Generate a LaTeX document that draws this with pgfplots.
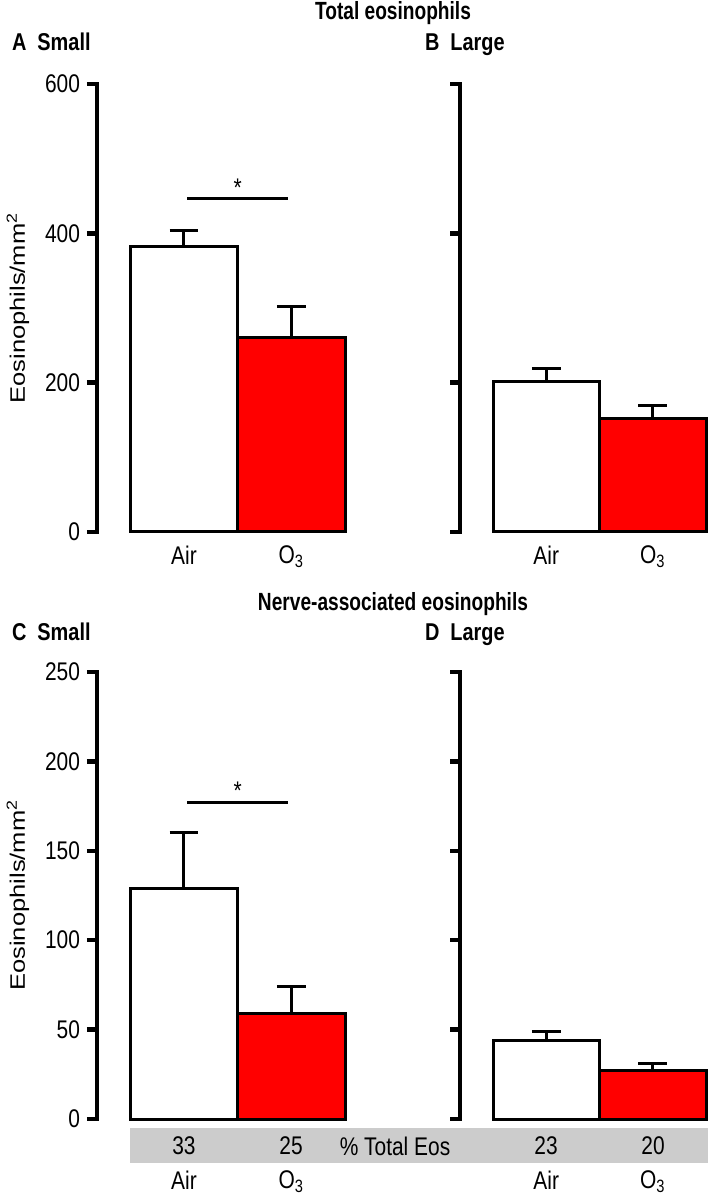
\documentclass[border=0pt]{standalone}
\usepackage{fontspec}
\setmainfont{Liberation Sans}
\usepackage{graphicx}
\usepackage{pgfplots}
\pgfplotsset{compat=1.18}
\definecolor{bandgray}{RGB}{204,204,204}
\definecolor{barred}{RGB}{255,0,0}
\newcommand{\ticksize}{\fontsize{10.5}{12}\selectfont}
\newcommand{\labsize}{\fontsize{10.5}{12}\selectfont}
\newcommand{\titlesize}{\fontsize{9.6}{12}\selectfont\bfseries}
\newcommand{\panelsize}{\fontsize{10}{12}\selectfont\bfseries}
\tikzset{stretch/.style={yscale=1.22}, tstretch/.style={yscale=1.3}}
\pgfplotsset{
  panel/.style={
    scale only axis, anchor=south west, clip=false,
    xmin=-0.81, xmax=1.5, ymin=0,
    axis lines*=left,
    x axis line style={draw=none},
    y axis line style={line width=2.2bp, black, line cap=rect},
    xtick={0,1}, xticklabels={Air, O\textsubscript{3}},
    xtick style={draw=none},
    tick align=outside, major tick length=5bp,
    ytick style={line width=2.2bp, black},
    tick label style={font=\ticksize, black, yscale=1.22},
    /pgf/number format/assume math mode=true,
  },
  airbar/.style={ybar, bar width=1, fill=white, draw=black, line width=1.5bp,
    error bars/.cd, y dir=plus, y explicit,
    error bar style={line width=1.5bp, black},
    error mark options={rotate=90, mark size=7.2bp, line width=1.5bp, black}},
  o3bar/.style={ybar, bar width=1, fill=barred, draw=black, line width=1.5bp,
    error bars/.cd, y dir=plus, y explicit,
    error bar style={line width=1.5bp, black},
    error mark options={rotate=90, mark size=7.2bp, line width=1.5bp, black}},
}
\begin{document}
\begin{tikzpicture}
\useasboundingbox (0,0) rectangle (354.5bp,599.5bp);

% titles
\node[font=\titlesize, tstretch] at (196.5bp,593bp) {Total eosinophils};
\node[font=\panelsize, stretch, anchor=base west] at (2.5bp,574bp) {A\hspace{5.5bp}Small};
\node[font=\panelsize, stretch, anchor=base west] at (209bp,574bp) {B\hspace{5.5bp}Large};
\node[font=\titlesize, tstretch] at (196.5bp,297.5bp) {Nerve-associated eosinophils};
\node[font=\panelsize, stretch, anchor=base west] at (2.5bp,279bp) {C\hspace{5.5bp}Small};
\node[font=\panelsize, stretch, anchor=base west] at (209bp,279bp) {D\hspace{5.5bp}Large};

% y labels
\node[font=\labsize, rotate=90] at (9bp,445.5bp) {\scalebox{1.22}[1]{Eosinophils/mm\textsuperscript{2}}};
\node[font=\labsize, rotate=90] at (9bp,152bp) {\scalebox{1.22}[1]{Eosinophils/mm\textsuperscript{2}}};

% gray band
\fill[bandgray] (65bp,18bp) rectangle (354bp,35.5bp);
\node[font=\ticksize, stretch] at (92bp,26.5bp) {33};
\node[font=\ticksize, stretch] at (145.5bp,26.5bp) {25};
\node[font=\ticksize, stretch] at (197.5bp,26.5bp) {\% Total Eos};
\node[font=\ticksize, stretch] at (273bp,26.5bp) {23};
\node[font=\ticksize, stretch] at (326.5bp,26.5bp) {20};

% Panel A
\begin{axis}[panel, at={(48.5bp,333.5bp)}, width=124bp, height=224bp,
  ymax=600, ytick={0,200,400,600}, xticklabel style={yshift=2bp}]
\addplot[airbar] coordinates {(0,382) +- (0,22)};
\addplot[o3bar] coordinates {(1,261) +- (0,41)};
\draw[line width=1.5bp] (axis cs:0.03,446) -- (axis cs:0.97,446);
\node[font=\ticksize, stretch, anchor=south, inner sep=1bp] at (axis cs:0.5,446) {*};
\end{axis}

% Panel B
\begin{axis}[panel, at={(230bp,333.5bp)}, width=123bp, height=224bp,
  ymax=600, ytick={0,200,400,600}, yticklabels={,,,}, xticklabel style={yshift=2bp}]
\addplot[airbar] coordinates {(0,201) +- (0,18)};
\addplot[o3bar] coordinates {(1,152) +- (0,17)};
\end{axis}

% Panel C
\begin{axis}[panel, at={(48.5bp,40bp)}, width=124bp, height=223.5bp,
  ymax=250, ytick={0,50,100,150,200,250},
  xticklabel style={yshift=-13.5bp}]
\addplot[airbar] coordinates {(0,129) +- (0,31)};
\addplot[o3bar] coordinates {(1,59) +- (0,15)};
\draw[line width=1.5bp] (axis cs:0.03,177) -- (axis cs:0.97,177);
\node[font=\ticksize, stretch, anchor=south, inner sep=1bp] at (axis cs:0.5,177) {*};
\end{axis}

% Panel D
\begin{axis}[panel, at={(230bp,40bp)}, width=123bp, height=223.5bp,
  ymax=250, ytick={0,50,100,150,200,250}, yticklabels={,,,,,},
  xticklabel style={yshift=-13.5bp}]
\addplot[airbar] coordinates {(0,44) +- (0,5)};
\addplot[o3bar] coordinates {(1,27) +- (0,4)};
\end{axis}
\end{tikzpicture}
\end{document}
